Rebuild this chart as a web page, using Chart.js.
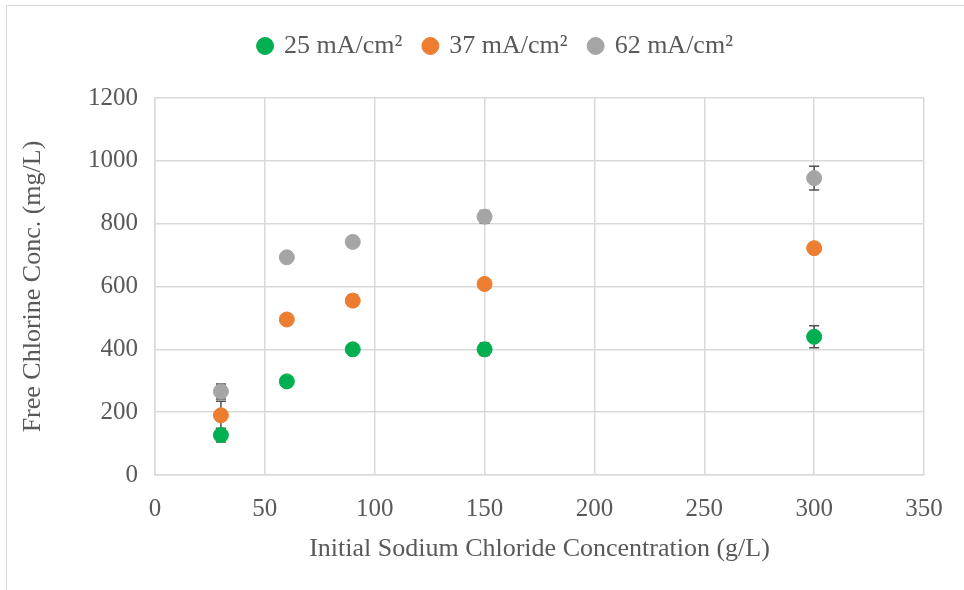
<!DOCTYPE html>
<html>
<head>
<meta charset="utf-8">
<script src="https://cdn.jsdelivr.net/npm/chart.js@4"></script>
<style>
  html, body { margin: 0; padding: 0; background: #fff; }
  #wrap { position: relative; width: 964px; height: 590px; }
  #frame { position: absolute; left: 6px; top: 5px; width: 970px; height: 600px; border: 1px solid #d9d9d9; box-sizing: border-box; }
  canvas { position: absolute; left: 0; top: 0; }
</style>
</head>
<body>
<div id="wrap">
  <div id="frame"></div>
  <canvas id="chart" width="964" height="590"></canvas>
</div>
<script>
// NaCl concentration (g/L)
const naclConc = [30, 60, 90, 150, 300];

const seriesLabels = ["25 mA/cm²", "37 mA/cm²", "62 mA/cm²"];
const seriesColors = ["#00b050", "#ed7d31", "#a5a5a5"];

// free chlorine (mg/L)
const chlorine25 = [127, 298, 400, 400, 440];
const chlorine37 = [190, 495, 555, 608, 722];
const chlorine62 = [266, 693, 742, 822, 945];

// error bar half-widths (mg/L)
const err25 = [22, 8, 8, 20, 35];
const err37 = [45, 8, 18, 8, 8];
const err62 = [24, 8, 10, 20, 38];

const xTicks = [0, 50, 100, 150, 200, 250, 300, 350];
const yTicks = [0, 200, 400, 600, 800, 1000, 1200];

const allValues = [chlorine25, chlorine37, chlorine62];
const allErrors = [err25, err37, err62];

const textColor = "#595959";
const fontFamily = "'Liberation Serif', 'Times New Roman', serif";

// draw vertical error bars with caps behind the points
const errorBars = {
    id: "errorBars",
    beforeDatasetsDraw(chart) {
        const ctx = chart.ctx;
        const xs = chart.scales.x;
        const ys = chart.scales.y;
        ctx.save();
        ctx.strokeStyle = "#505050";
        ctx.lineWidth = 1.5;
        allValues.forEach((vals, s) => {
            vals.forEach((v, i) => {
                const e = allErrors[s][i];
                const px = xs.getPixelForValue(naclConc[i]);
                const top = ys.getPixelForValue(v + e);
                const bot = ys.getPixelForValue(v - e);
                ctx.beginPath();
                ctx.moveTo(px, top);
                ctx.lineTo(px, bot);
                ctx.moveTo(px - 5, top);
                ctx.lineTo(px + 5, top);
                ctx.moveTo(px - 5, bot);
                ctx.lineTo(px + 5, bot);
                ctx.stroke();
            });
        });
        ctx.restore();
    }
};

// extra room under the legend, and nudge it right like the original
const legendTweak = {
    id: "legendTweak",
    beforeLayout(chart) {
        const lg = chart.legend;
        if (lg && !lg._patched) {
            const fit = lg.fit;
            lg.fit = function () {
                fit.call(this);
                this.height += 29;
            };
            lg._patched = true;
        }
    },
    afterLayout(chart) {
        const lg = chart.legend;
        if (lg) {
            lg.left += 27;
            lg.right += 27;
        }
    }
};

const datasets = allValues.map((vals, s) => ({
    label: seriesLabels[s],
    data: vals.map((v, i) => ({ x: naclConc[i], y: v })),
    backgroundColor: seriesColors[s],
    borderColor: seriesColors[s],
    pointRadius: 7.5,
    pointHoverRadius: 7.5,
    pointStyle: "circle",
    showLine: false
}));

new Chart(document.getElementById("chart").getContext("2d"), {
    type: "scatter",
    data: { datasets: datasets },
    plugins: [errorBars, legendTweak],
    options: {
        responsive: false,
        animation: false,
        layout: { padding: { left: 14, right: 40, top: 11, bottom: 21 } },
        plugins: {
            legend: {
                position: "top",
                labels: {
                    usePointStyle: true,
                    pointStyle: "circle",
                    boxWidth: 12,
                    boxHeight: 12,
                    padding: 22,
                    color: textColor,
                    font: { family: fontFamily, size: 26 }
                }
            },
            tooltip: { enabled: false }
        },
        scales: {
            x: {
                type: "linear",
                min: 0,
                max: 350,
                afterBuildTicks(axis) { axis.ticks = xTicks.map(v => ({ value: v })); },
                afterFit(axis) { axis.height = 94; },
                grid: { color: "#d9d9d9", lineWidth: 1.5, drawTicks: false },
                border: { color: "#d9d9d9", width: 1.5 },
                ticks: { color: textColor, font: { family: fontFamily, size: 25 }, padding: 19, callback: v => v },
                title: {
                    display: true,
                    text: "Initial Sodium Chloride Concentration (g/L)",
                    color: textColor,
                    font: { family: fontFamily, size: 26 },
                    padding: { top: 6 }
                }
            },
            y: {
                type: "linear",
                min: 0,
                max: 1200,
                afterBuildTicks(axis) { axis.ticks = yTicks.map(v => ({ value: v })); },
                afterFit(axis) { axis.width = 155 - 14; },
                grid: { color: "#d9d9d9", lineWidth: 1.5, drawTicks: false },
                border: { color: "#d9d9d9", width: 1.5 },
                ticks: { color: textColor, font: { family: fontFamily, size: 25 }, padding: 17, callback: v => v },
                title: {
                    display: true,
                    text: "Free Chlorine Conc. (mg/L)",
                    color: textColor,
                    font: { family: fontFamily, size: 26 },
                    padding: { bottom: 0 }
                }
            }
        }
    }
});
</script>
</body>
</html>
